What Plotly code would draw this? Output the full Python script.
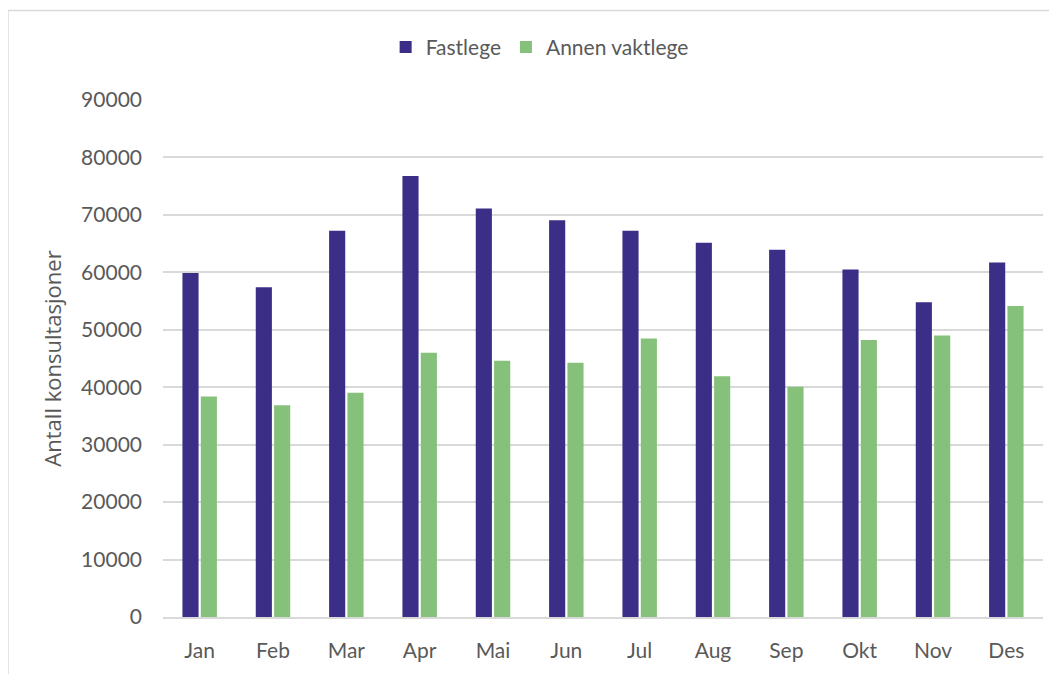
import plotly.graph_objects as go

months = ["Jan", "Feb", "Mar", "Apr", "Mai", "Jun", "Jul", "Aug", "Sep", "Okt", "Nov", "Des"]
fastlege = [59900, 57400, 67250, 76750, 71100, 69050, 67250, 65150, 63950, 60500, 54800, 61700]
annen_vaktlege = [38400, 36850, 39050, 46000, 44600, 44250, 48500, 41900, 40100, 48200, 49000, 54150]
y_ticks = [0, 10000, 20000, 30000, 40000, 50000, 60000, 70000, 80000, 90000]

GREY = "#595959"
GRID = "#D9D9D9"

fig = go.Figure()
fig.add_trace(go.Bar(x=months, y=fastlege, name="Fastlege",
                     marker=dict(color="#3B2E87", line=dict(width=0))))
fig.add_trace(go.Bar(x=months, y=annen_vaktlege, name="Annen vaktlege",
                     marker=dict(color="#85C17A", line=dict(width=0))))

fig.update_layout(
    width=1049, height=666,
    margin=dict(l=155, r=14, t=92, b=54),
    paper_bgcolor="white", plot_bgcolor="white",
    barmode="group", bargap=0.5, bargroupgap=0.12,
    font=dict(family="Lato", color=GREY, size=21),
    legend=dict(orientation="h", x=0.428, xanchor="center", y=1.102, yanchor="middle",
                font=dict(family="Lato", size=21, color=GREY), bgcolor="rgba(0,0,0,0)"),
    showlegend=True,
)
fig.update_yaxes(
    range=[0, 90000], tickvals=y_ticks, ticktext=[str(v) for v in y_ticks],
    showgrid=True, gridcolor=GRID, gridwidth=1.5,
    zeroline=False, showline=False, ticks="", ticklabelstandoff=20,
    tickfont=dict(family="Lato", size=21, color=GREY),
    title=dict(text="Antall konsultasjoner", standoff=13,
               font=dict(family="Open Sans", size=22, color=GREY)),
)
fig.update_xaxes(
    showgrid=False, zeroline=False, showline=True, linecolor=GRID, linewidth=1.5,
    ticks="", ticklabelstandoff=14,
    tickfont=dict(family="Lato", size=21, color=GREY),
)
fig.add_shape(type="rect", xref="paper", yref="paper",
              x0=-0.1762, x1=1.12, y0=-0.25, y1=1.173,
              line=dict(color=GRID, width=1.5), fillcolor="rgba(0,0,0,0)", layer="below")

fig.write_html("out.html")
